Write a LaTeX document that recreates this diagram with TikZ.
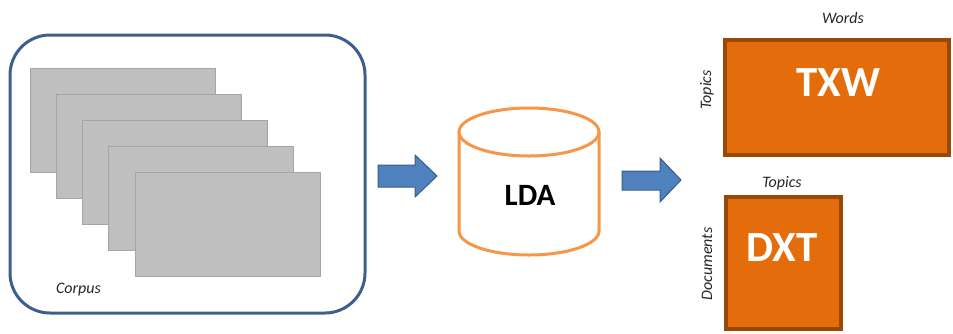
\documentclass[tikz,border=0pt]{standalone}
\usepackage{fontspec}
\setmainfont{Carlito}
\definecolor{framebl}{HTML}{3C5F8E}
\definecolor{sheetfill}{HTML}{BFBFBF}
\definecolor{sheetline}{HTML}{A5A5A5}
\definecolor{arrfill}{HTML}{4F81BD}
\definecolor{arrline}{HTML}{385D8A}
\definecolor{cylor}{HTML}{F79646}
\definecolor{boxfill}{HTML}{E46C0A}
\definecolor{boxline}{HTML}{984807}
\begin{document}
\begin{tikzpicture}[x=1pt,y=-1pt,
  corpusbox/.style={draw=framebl,line width=3pt,rounded corners=40pt,inner sep=0pt},
  sheet/.style={draw=sheetline,fill=sheetfill,line width=1pt,minimum width=185pt,minimum height=104pt,inner sep=0pt},
  blockarrow/.style={draw=arrline,fill=arrfill,line width=1pt,line join=miter},
  matbox/.style={draw=boxline,fill=boxfill,line width=4pt,inner sep=0pt},
  small/.style={font=\itshape\fontsize{16}{16}\selectfont,text=black!85,inner sep=0pt},
  big/.style={font=\bfseries\fontsize{43}{43}\selectfont,text=white,inner sep=0pt}]
\useasboundingbox (0,0) rectangle (953,333);
% corpus frame
\node[corpusbox,minimum width=355pt,minimum height=278pt] (corpus) at (187.5,174) {};
% sheets
\node[sheet] (s1) at (123,120.5) {};
\node[sheet] (s2) at (149,146.5) {};
\node[sheet] (s3) at (175,172.5) {};
\node[sheet] (s4) at (201,198.5) {};
\node[sheet] (s5) at (227.5,224.5) {};
\node[small] (corpuslbl) at (78.5,290) {Corpus};
% arrow 1
\draw[blockarrow] (378,165) -- (415,165) -- (415,155) -- (437,176) -- (415,197) -- (415,187) -- (378,187) -- cycle;
% cylinder
\draw[draw=cylor,line width=3pt,fill=white] (459,132) -- (459,231) arc[start angle=180,end angle=0,x radius=70pt,y radius=-24pt] -- (599,132);
\draw[draw=cylor,line width=3pt] (529,132) ellipse [x radius=70pt,y radius=24pt];
\node[font=\bfseries\fontsize{31}{31}\selectfont,inner sep=0pt] (lda) at (530,195) {LDA};
% arrow 2
\draw[blockarrow] (622,171) -- (660,171) -- (660,158) -- (681,180) -- (660,202) -- (660,190) -- (622,190) -- cycle;
% TXW
\draw[matbox] (725,40) rectangle (949,155);
\node[big] (txw) at (838,83) {TXW};
\node[small] (words) at (843,18) {Words};
\node[small,rotate=90] (topics1) at (707,90) {Topics};
% DXT
\draw[matbox] (726,197) rectangle (841,329);
\node[big] (dxt) at (782,248) {DXT};
\node[small] (topics2) at (782,183) {Topics};
\node[small,rotate=90] (docs) at (707,264) {Documents};
\end{tikzpicture}
\end{document}
